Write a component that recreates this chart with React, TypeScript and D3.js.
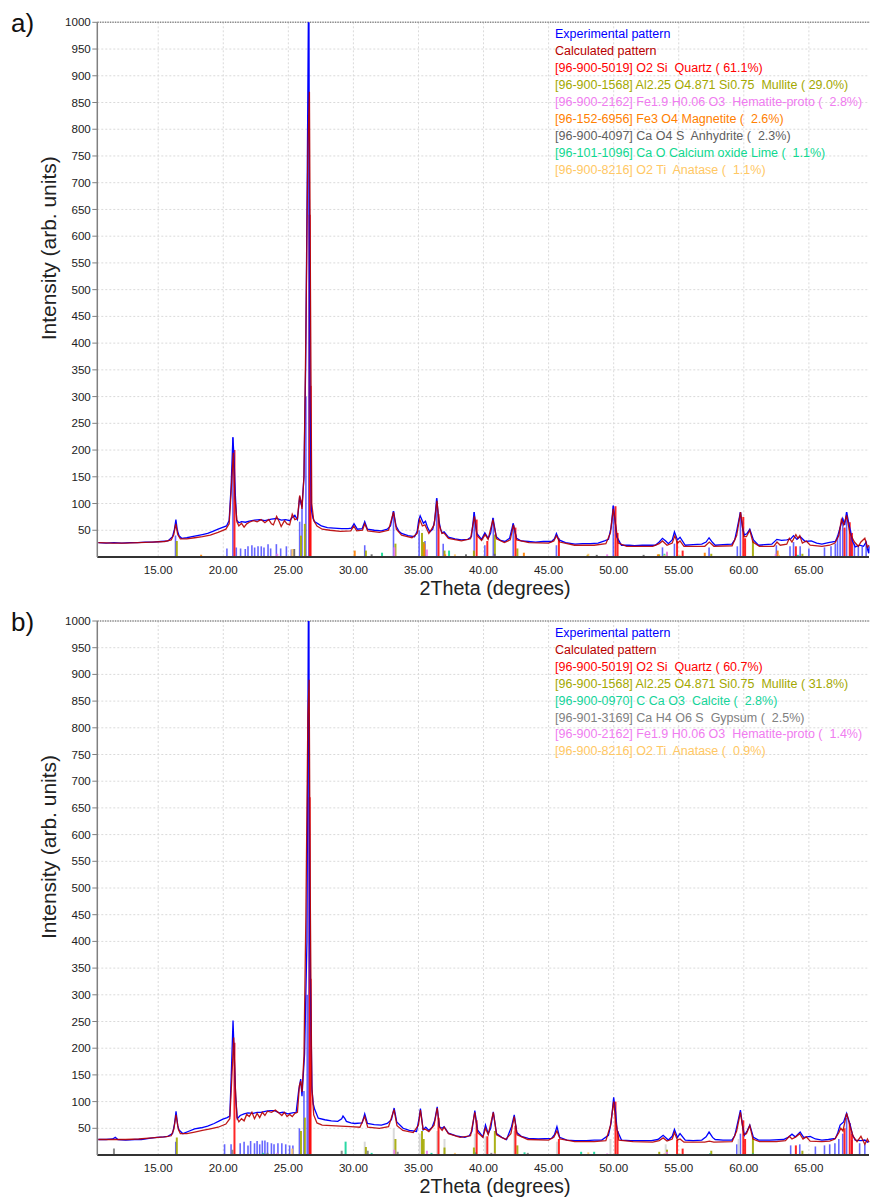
import React from 'react';
import * as d3 from 'd3';

type Pt = [number, number];

// 2theta range shown and tick values
const xDomain: Pt = [10.32, 69.62];
const xTicks = [15, 20, 25, 30, 35, 40, 45, 50, 55, 60, 65];
const yTicks = d3.range(50, 1001, 50);

// ---- panel a) ----
const expA: Pt[] = [
  [10.4, 27], [11.0, 26], [11.6, 27], [12.2, 26], [12.8, 27], [13.4, 27], [14.0, 28], [14.6, 28], [15.2, 29], [15.75, 30],
  [16.1, 38], [16.25, 52], [16.36, 70], [16.47, 50], [16.6, 40], [16.8, 35], [17.2, 36], [17.6, 38], [18.0, 40], [18.4, 42],
  [18.8, 44], [19.2, 48], [19.6, 52], [19.9, 55], [20.25, 58], [20.45, 68], [20.6, 131], [20.74, 224], [20.82, 190], [20.92, 120],
  [21.03, 69], [21.2, 64], [21.4, 66], [21.7, 65], [22.0, 67], [22.4, 69], [22.8, 70], [23.2, 68], [23.7, 71], [24.1, 72],
  [24.46, 69], [24.8, 70], [25.1, 68], [25.3, 74], [25.5, 78], [25.7, 70], [25.87, 113], [25.97, 100], [26.05, 94], [26.2, 150],
  [26.33, 355], [26.45, 700], [26.56, 1080], [26.67, 300], [26.77, 88], [26.9, 72], [27.03, 66], [27.3, 62], [27.54, 58], [28.0, 55],
  [28.5, 54], [29.08, 53], [29.6, 53], [29.85, 54], [30.05, 62], [30.3, 52], [30.67, 53], [30.87, 66], [31.08, 52], [31.6, 50],
  [32.15, 49], [32.6, 52], [32.85, 58], [33.08, 86], [33.28, 58], [33.5, 48], [33.7, 44], [34.2, 40], [34.7, 38], [34.9, 48],
  [35.02, 69], [35.13, 77], [35.38, 63], [35.54, 67], [35.7, 55], [35.87, 47], [36.1, 52], [36.25, 69], [36.4, 110], [36.56, 69],
  [36.7, 52], [36.82, 45], [36.97, 47], [37.3, 37], [37.8, 34], [38.3, 32], [38.8, 33], [39.07, 38], [39.28, 84], [39.48, 44],
  [39.85, 33], [40.1, 45], [40.36, 35], [40.55, 45], [40.72, 73], [40.98, 38], [41.3, 31], [41.64, 29], [42.0, 35], [42.28, 63],
  [42.54, 35], [42.9, 30], [43.44, 29], [44.0, 28], [44.6, 29], [45.23, 29], [45.45, 34], [45.6, 44], [45.8, 32], [46.3, 27],
  [47.03, 24], [47.6, 25], [48.2, 25], [48.8, 26], [49.3, 30], [49.6, 33], [49.8, 55], [49.97, 96], [50.1, 70], [50.23, 38],
  [50.6, 22], [51.2, 22], [51.6, 21], [52.2, 22], [52.8, 22], [53.2, 22], [53.5, 28], [53.75, 35], [54.0, 30], [54.2, 25],
  [54.5, 32], [54.67, 47], [54.9, 32], [55.1, 37], [55.5, 22], [56.1, 23], [56.77, 24], [57.1, 28], [57.33, 36], [57.6, 27],
  [57.8, 22], [58.4, 23], [59.08, 24], [59.3, 32], [59.46, 50], [59.74, 84], [59.9, 55], [60.05, 41], [60.25, 44], [60.46, 52],
  [60.74, 32], [61.13, 22], [61.6, 23], [62.15, 24], [62.54, 33], [62.9, 31], [63.3, 32], [63.6, 34], [63.82, 40], [64.08, 33],
  [64.33, 38], [64.72, 29], [65.18, 30], [65.6, 26], [66.0, 24], [66.5, 27], [67.03, 29], [67.2, 38], [67.4, 55], [67.6, 72],
  [67.75, 60], [67.9, 84], [68.05, 65], [68.18, 50], [68.35, 30], [68.56, 19], [68.9, 22], [69.2, 20], [69.4, 28], [69.5, 15],
  [69.6, 7], [69.62, 20],
];

const calcA: Pt[] = [
  [10.4, 27], [11.5, 26], [12.5, 26], [13.5, 27], [14.5, 28], [15.5, 29], [16.0, 32], [16.2, 42], [16.35, 62], [16.5, 42],
  [16.7, 34], [17.2, 34], [17.8, 36], [18.4, 38], [19.0, 41], [19.6, 46], [20.2, 52], [20.45, 62], [20.6, 120], [20.77, 195],
  [20.9, 110], [21.05, 66], [21.2, 58], [21.4, 63], [21.6, 56], [21.8, 62], [22.0, 65], [22.3, 68], [22.6, 66], [22.9, 70],
  [23.2, 64], [23.5, 70], [23.7, 62], [23.85, 60], [24.1, 76], [24.3, 66], [24.45, 57], [24.7, 68], [24.9, 62], [25.1, 60],
  [25.3, 80], [25.5, 70], [25.7, 72], [25.87, 115], [25.97, 105], [26.05, 90], [26.2, 150], [26.35, 420], [26.5, 760], [26.62, 870],
  [26.7, 500], [26.8, 100], [26.95, 68], [27.2, 58], [27.6, 52], [28.2, 50], [29.0, 48], [29.8, 49], [30.03, 58], [30.25, 49],
  [30.7, 50], [30.87, 62], [31.1, 49], [32.0, 46], [32.7, 50], [33.08, 84], [33.3, 52], [33.7, 41], [34.5, 36], [34.9, 44],
  [35.1, 70], [35.3, 58], [35.5, 60], [35.8, 44], [36.2, 60], [36.42, 105], [36.6, 60], [36.8, 44], [36.95, 45], [37.3, 35],
  [38.3, 30], [39.0, 34], [39.3, 76], [39.5, 40], [39.85, 31], [40.12, 42], [40.35, 33], [40.72, 70], [41.0, 34], [41.6, 27],
  [42.05, 32], [42.3, 60], [42.55, 32], [43.5, 27], [45.0, 26], [45.4, 30], [45.6, 40], [45.85, 28], [47.0, 22], [48.5, 22],
  [49.4, 25], [49.75, 45], [49.97, 90], [50.15, 60], [50.35, 26], [51.0, 20], [53.0, 20], [53.5, 25], [53.75, 30], [54.1, 22],
  [54.5, 26], [54.7, 40], [54.9, 26], [55.1, 30], [55.4, 20], [57.0, 20], [57.35, 28], [57.7, 20], [59.1, 21], [59.45, 40],
  [59.75, 84], [60.0, 38], [60.2, 38], [60.46, 50], [60.7, 28], [61.2, 20], [62.3, 20], [62.55, 28], [62.8, 22], [63.3, 24],
  [63.5, 35], [63.7, 28], [64.0, 42], [64.15, 35], [64.3, 40], [64.5, 26], [64.8, 30], [65.1, 22], [66.0, 20], [66.6, 22],
  [67.0, 26], [67.3, 40], [67.5, 70], [67.68, 60], [67.9, 78], [68.15, 45], [68.5, 28], [68.8, 20], [69.0, 28], [69.3, 35],
  [69.5, 18], [69.62, 22],
];

const peaksA: Pt[] = [
  [16.33, 40], [20.28, 16], [20.74, 224], [21.0, 18], [21.33, 16], [21.69, 15], [21.9, 20], [22.2, 22], [22.41, 18], [22.67, 20],
  [22.92, 20], [23.13, 18], [23.44, 24], [23.64, 16], [24.08, 24], [24.41, 16], [24.85, 20], [25.23, 14], [25.87, 66], [26.05, 106],
  [26.35, 300], [26.57, 1000], [30.87, 22], [33.08, 86], [35.05, 50], [35.5, 30], [36.4, 110], [36.9, 25], [39.28, 84], [40.1, 22],
  [40.75, 73], [42.28, 63], [45.6, 22], [49.97, 96], [53.75, 18], [54.67, 25], [57.33, 18], [59.5, 20], [59.74, 84], [62.5, 22],
  [63.55, 20], [63.82, 28], [64.33, 20], [65.0, 16], [66.2, 18], [66.7, 20], [67.03, 25], [67.2, 40], [67.4, 55], [67.6, 72],
  [67.9, 84], [68.2, 50], [68.5, 25], [68.8, 22], [69.1, 20], [69.4, 28],
];
const quartzA: Pt[] = [
  [20.86, 200], [26.64, 640], [26.71, 320], [36.54, 80], [39.47, 70], [40.29, 30], [42.45, 55], [45.79, 35], [50.14, 95], [50.3, 45],
  [54.87, 30], [55.3, 12], [59.96, 75], [60.1, 35], [64.0, 20], [67.74, 55], [68.14, 65], [68.31, 45],
];
const mulliteA: Pt[] = [
  [16.43, 30], [25.97, 40], [26.27, 62], [30.96, 12], [33.23, 25], [35.27, 45], [35.4, 28], [37.0, 12], [39.26, 12], [40.87, 42],
  [42.6, 16], [48.0, 4], [53.5, 5], [54.1, 8], [57.5, 6], [60.7, 30], [64.5, 6],
];
const hematiteA: Pt[] = [[24.15, 6], [33.15, 18], [35.65, 14], [40.85, 4], [49.5, 5], [54.1, 10], [62.45, 6], [64.0, 5]];
const magnetiteA: Pt[] = [[18.3, 4], [30.1, 12], [35.45, 25], [37.05, 5], [43.1, 8], [53.4, 5], [57.0, 8], [62.6, 12]];
const anhydriteA: Pt[] = [[25.45, 15], [31.4, 5], [38.65, 5], [40.85, 6], [48.7, 4], [52.3, 4]];
const limeA: Pt[] = [[32.2, 8], [37.35, 12], [53.9, 6], [64.15, 4]];
const anataseA: Pt[] = [[25.3, 15], [37.8, 5], [48.05, 6], [53.9, 4], [55.06, 4], [62.7, 4]];

const legendA = [
  ['Experimental pattern', '#0000ff'],
  ['Calculated pattern', '#b80000'],
  ['[96-900-5019] O2 Si  Quartz ( 61.1%)', '#ff0000'],
  ['[96-900-1568] Al2.25 O4.871 Si0.75  Mullite ( 29.0%)', '#a3a800'],
  ['[96-900-2162] Fe1.9 H0.06 O3  Hematite-proto (  2.8%)', '#f07cf0'],
  ['[96-152-6956] Fe3 O4 Magnetite (  2.6%)', '#ff8000'],
  ['[96-900-4097] Ca O4 S  Anhydrite (  2.3%)', '#606060'],
  ['[96-101-1096] Ca O Calcium oxide Lime (  1.1%)', '#10d890'],
  ['[96-900-8216] O2 Ti  Anatase (  1.1%)', '#ffc864'],
];

// ---- panel b) ----
const expB: Pt[] = [
  [10.4, 29], [11.0, 29], [11.5, 30], [11.7, 33], [11.9, 29], [12.5, 28], [13.2, 29], [13.7, 29], [14.3, 31], [14.9, 33],
  [15.4, 34], [15.75, 35], [16.1, 40], [16.25, 58], [16.37, 82], [16.5, 55], [16.6, 47], [16.9, 40], [17.3, 44], [17.8, 49],
  [18.3, 51], [18.8, 54], [19.3, 59], [19.7, 64], [19.97, 67], [20.3, 70], [20.5, 73], [20.62, 153], [20.75, 252], [20.85, 180],
  [20.95, 110], [21.08, 68], [21.3, 74], [21.6, 77], [21.9, 79], [22.3, 78], [22.6, 80], [22.9, 80], [23.3, 82], [23.6, 83],
  [23.95, 83], [24.3, 79], [24.6, 80], [24.97, 77], [25.3, 79], [25.6, 80], [25.8, 122], [25.95, 142], [26.05, 110], [26.15, 150],
  [26.25, 190], [26.43, 400], [26.55, 1080], [26.65, 400], [26.82, 122], [26.92, 95], [27.03, 85], [27.3, 69], [27.8, 66], [28.3, 64],
  [28.8, 63], [29.1, 68], [29.2, 73], [29.35, 68], [29.46, 63], [29.8, 60], [30.1, 59], [30.67, 60], [30.87, 77], [31.08, 59],
  [31.6, 57], [32.15, 56], [32.6, 59], [32.92, 66], [33.13, 88], [33.33, 62], [33.82, 50], [34.3, 46], [34.85, 44], [35.05, 69],
  [35.15, 87], [35.36, 47], [35.56, 52], [35.8, 46], [36.05, 52], [36.25, 65], [36.44, 90], [36.6, 53], [36.82, 50], [36.97, 53],
  [37.3, 41], [37.9, 36], [38.56, 33], [38.9, 36], [39.1, 44], [39.33, 83], [39.54, 47], [39.95, 34], [40.15, 56], [40.36, 40],
  [40.55, 50], [40.75, 81], [41.0, 40], [41.4, 33], [41.77, 29], [42.15, 53], [42.36, 75], [42.56, 42], [42.9, 35], [43.44, 31],
  [44.2, 30], [45.23, 31], [45.45, 38], [45.64, 53], [45.85, 33], [46.4, 28], [47.03, 27], [47.9, 27], [48.5, 28], [49.08, 28],
  [49.6, 37], [49.8, 60], [50.0, 108], [50.15, 80], [50.26, 47], [50.6, 28], [51.3, 27], [52.15, 27], [52.9, 27], [53.4, 29],
  [53.8, 37], [54.2, 28], [54.5, 35], [54.67, 48], [54.9, 33], [55.1, 40], [55.5, 28], [56.1, 27], [56.77, 28], [57.1, 34],
  [57.33, 43], [57.6, 33], [57.8, 29], [58.4, 28], [59.08, 28], [59.3, 36], [59.46, 53], [59.74, 84], [59.9, 55], [60.05, 37],
  [60.25, 45], [60.46, 56], [60.74, 33], [61.13, 28], [62.0, 28], [63.05, 29], [63.4, 33], [63.7, 39], [63.95, 34], [64.33, 43],
  [64.6, 33], [65.1, 35], [65.5, 30], [66.0, 28], [66.5, 29], [67.03, 31], [67.2, 40], [67.4, 56], [67.67, 62], [67.9, 78],
  [68.18, 56], [68.35, 38], [68.56, 28], [69.0, 27], [69.3, 28], [69.5, 24], [69.62, 26],
];

const calcB: Pt[] = [
  [10.4, 29], [11.5, 29], [12.5, 29], [13.5, 30], [14.5, 32], [15.5, 34], [16.0, 36], [16.2, 48], [16.37, 75], [16.55, 48],
  [16.7, 40], [17.2, 40], [17.8, 43], [18.4, 46], [19.0, 49], [19.6, 52], [20.2, 58], [20.5, 68], [20.65, 140], [20.8, 220],
  [20.92, 130], [21.05, 70], [21.2, 62], [21.4, 68], [21.6, 64], [21.8, 76], [22.0, 72], [22.2, 80], [22.4, 68], [22.6, 78],
  [22.8, 70], [23.0, 80], [23.2, 74], [23.4, 82], [23.7, 80], [24.0, 84], [24.3, 78], [24.5, 74], [24.7, 80], [24.9, 72],
  [25.1, 76], [25.3, 72], [25.5, 78], [25.7, 80], [25.85, 130], [25.95, 138], [26.05, 118], [26.2, 185], [26.35, 450], [26.5, 820],
  [26.6, 890], [26.68, 500], [26.8, 130], [26.95, 75], [27.2, 60], [27.6, 56], [28.3, 55], [29.0, 54], [29.8, 53], [30.5, 52],
  [30.87, 72], [31.1, 52], [32.0, 50], [32.7, 53], [33.12, 85], [33.35, 55], [33.8, 46], [34.6, 42], [35.0, 56], [35.15, 84],
  [35.35, 48], [35.56, 48], [35.8, 44], [36.2, 56], [36.44, 88], [36.62, 52], [36.82, 46], [36.97, 52], [37.3, 40], [38.2, 33],
  [39.0, 36], [39.33, 80], [39.55, 42], [39.95, 33], [40.15, 50], [40.36, 38], [40.75, 80], [41.0, 38], [41.7, 29], [42.1, 40],
  [42.36, 72], [42.58, 38], [43.4, 29], [45.0, 28], [45.4, 33], [45.64, 45], [45.88, 30], [47.0, 25], [48.5, 25], [49.4, 27],
  [49.75, 55], [50.0, 100], [50.18, 60], [50.4, 28], [51.5, 25], [53.0, 24], [53.5, 27], [53.8, 32], [54.1, 26], [54.5, 30],
  [54.67, 42], [54.9, 28], [55.1, 30], [55.4, 24], [57.0, 24], [57.35, 26], [57.7, 24], [59.1, 25], [59.45, 45], [59.74, 80],
  [60.0, 38], [60.2, 40], [60.46, 55], [60.7, 30], [61.2, 25], [62.5, 25], [63.2, 27], [63.5, 35], [63.7, 30], [64.0, 34],
  [64.3, 40], [64.55, 30], [64.8, 34], [65.1, 26], [66.0, 25], [66.6, 26], [67.0, 30], [67.3, 42], [67.45, 50], [67.62, 45],
  [67.9, 78], [68.15, 55], [68.4, 35], [68.7, 25], [69.0, 35], [69.3, 20], [69.5, 30], [69.62, 24],
];

const peaksB: Pt[] = [
  [16.35, 25], [20.1, 20], [20.6, 20], [21.3, 22], [21.6, 25], [21.9, 18], [22.1, 26], [22.4, 22], [22.6, 26], [22.8, 20],
  [23.0, 27], [23.2, 27], [23.4, 24], [23.7, 22], [23.9, 20], [24.2, 22], [24.5, 22], [24.8, 20], [25.1, 18], [25.35, 18],
  [25.85, 50], [26.2, 120], [26.45, 300], [26.58, 1000], [59.46, 20], [59.74, 40], [63.6, 18], [64.3, 20], [65.5, 16], [66.2, 18],
  [66.6, 20], [67.0, 22], [67.3, 30], [67.6, 40], [67.9, 70], [68.3, 28], [68.9, 22], [69.3, 20],
];
const paleB: Pt[] = [
  [30.87, 25], [33.1, 50], [35.1, 40], [36.44, 45], [37.0, 30], [39.33, 40], [40.15, 35], [42.36, 45], [45.64, 25], [49.75, 30],
  [54.0, 20], [59.6, 30],
];
const quartzB: Pt[] = [
  [20.86, 210], [26.64, 670], [26.71, 330], [36.54, 70], [39.47, 65], [40.29, 35], [42.45, 55], [45.79, 30], [50.14, 100], [50.3, 45],
  [54.87, 28], [55.3, 12], [59.96, 65], [60.1, 30], [64.0, 18], [67.74, 50], [68.14, 60], [68.31, 40],
];
const mulliteB: Pt[] = [
  [16.43, 33], [25.97, 45], [26.27, 70], [30.96, 15], [33.23, 30], [35.27, 45], [35.4, 30], [37.0, 14], [39.26, 14], [40.87, 45],
  [42.6, 18], [53.5, 6], [54.1, 10], [57.5, 8], [60.7, 32], [64.5, 8],
];
const calciteB: Pt[] = [[23.05, 4], [29.4, 25], [31.4, 4], [36.0, 4], [39.4, 5], [43.15, 5], [47.5, 6], [48.5, 6], [57.4, 3], [60.7, 3]];
const gypsumB: Pt[] = [[11.6, 12], [20.7, 10], [23.4, 4], [29.1, 8], [31.1, 8], [33.4, 6], [40.6, 4], [43.4, 4]];
const hematiteB: Pt[] = [[24.15, 4], [33.15, 10], [35.65, 8], [40.85, 3], [49.5, 3], [54.1, 6]];
const anataseB: Pt[] = [[25.3, 12], [37.8, 4], [48.05, 5], [53.9, 3], [55.06, 3]];

const legendB = [
  ['Experimental pattern', '#0000ff'],
  ['Calculated pattern', '#b80000'],
  ['[96-900-5019] O2 Si  Quartz ( 60.7%)', '#ff0000'],
  ['[96-900-1568] Al2.25 O4.871 Si0.75  Mullite ( 31.8%)', '#a3a800'],
  ['[96-900-0970] C Ca O3  Calcite (  2.8%)', '#14d49a'],
  ['[96-901-3169] Ca H4 O6 S  Gypsum (  2.5%)', '#808080'],
  ['[96-900-2162] Fe1.9 H0.06 O3  Hematite-proto (  1.4%)', '#f07cf0'],
  ['[96-900-8216] O2 Ti  Anatase (  0.9%)', '#ffc864'],
];

const FONT = '"Liberation Sans", Arial, sans-serif';

const Panel = ({ id, top, bottom, label, exp, calc, sticks, legend }) => {
  const left = 97.3;
  const right = 869;
  const x = d3.scaleLinear().domain(xDomain).range([left, right]);
  const y = d3.scaleLinear().domain([0, 1000]).range([bottom, top]);
  const line = d3.line<Pt>().x(d => x(d[0])).y(d => y(d[1]));

  return (
    <g>
      <defs>
        <clipPath id={id}>
          <rect x={left} y={top} width={right - left + 1} height={bottom - top} />
        </clipPath>
      </defs>
      <text x={11} y={top + 9.5} fontSize={26} fill="#111">{label}</text>

      {/* grid */}
      {xTicks.map(t => (
        <line key={'gx' + t} x1={x(t)} x2={x(t)} y1={top} y2={bottom} stroke="#dadada" strokeDasharray="2,2" />
      ))}
      {yTicks.filter(t => t < 1000).map(t => (
        <line key={'gy' + t} x1={left} x2={right} y1={y(t)} y2={y(t)} stroke="#dadada" strokeDasharray="2,2" />
      ))}
      <line x1={left} x2={870} y1={y(1000)} y2={y(1000)} stroke="#8a8a8a" strokeWidth={1.5} strokeDasharray="1.5,1" />

      {/* legend */}
      {legend.map(([txt, col], i) => (
        <text key={txt} x={555} y={top + 16 + i * 16.9} fontSize={12.5} fill={col} style={{ whiteSpace: 'pre' }}>{txt}</text>
      ))}

      <g clipPath={`url(#${id})`}>
        {sticks.map((s, si) => s.data.map((d, i) => (
          <line key={si + '-' + i} x1={x(d[0])} x2={x(d[0])} y1={y(0)} y2={y(d[1])}
            stroke={s.color} strokeWidth={s.width} strokeOpacity={s.opacity} />
        )))}
        <path d={line(exp)} fill="none" stroke="#0000ff" strokeWidth={1.3} />
        <path d={line(calc)} fill="none" stroke="#b80000" strokeWidth={1.3} strokeOpacity={0.9} />
      </g>

      {/* axes */}
      <line x1={left} x2={869} y1={bottom} y2={bottom} stroke="#333" strokeWidth={2} />
      <line x1={left} x2={left} y1={top} y2={bottom} stroke="#808080" strokeWidth={1.5} />
      {yTicks.map(t => (
        <g key={'yt' + t}>
          <line x1={left - 5} x2={left} y1={y(t)} y2={y(t)} stroke="#808080" />
          <text x={left - 6.5} y={y(t)} dy="0.35em" textAnchor="end" fontSize={11.6} fill="#222">{t}</text>
        </g>
      ))}
      {xTicks.map(t => (
        <text key={'xt' + t} x={x(t)} y={bottom + 17} textAnchor="middle" fontSize={11.6} fill="#222">{d3.format('.2f')(t)}</text>
      ))}
      <text x={495} y={bottom + 38} textAnchor="middle" fontSize={20} textLength={151} lengthAdjust="spacingAndGlyphs" fill="#222">2Theta (degrees)</text>
      <text transform={`translate(56,${top + 226}) rotate(-90)`} textAnchor="middle" fontSize={20.5} textLength={184} lengthAdjust="spacingAndGlyphs" fill="#222">Intensity (arb. units)</text>
    </g>
  );
};

const stickSet = (peaks, quartz, extra) => [
  { data: peaks, color: '#0000ff', width: 1.6, opacity: 0.6 },
  ...extra,
  { data: quartz, color: '#ff0000', width: 2, opacity: 0.85 },
];

export default function App() {
  const sticksA = stickSet(peaksA, quartzA, [
    { data: mulliteA, color: '#a3a800', width: 2, opacity: 0.9 },
    { data: hematiteA, color: '#f07cf0', width: 2, opacity: 0.9 },
    { data: magnetiteA, color: '#ff8000', width: 2, opacity: 0.9 },
    { data: anhydriteA, color: '#606060', width: 2, opacity: 0.9 },
    { data: limeA, color: '#10d890', width: 2, opacity: 0.9 },
    { data: anataseA, color: '#ffc864', width: 2, opacity: 0.9 },
  ]);
  const sticksB = stickSet(peaksB, quartzB, [
    { data: paleB, color: '#d0d0d0', width: 2, opacity: 0.8 },
    { data: mulliteB, color: '#a3a800', width: 2, opacity: 0.9 },
    { data: calciteB, color: '#14d49a', width: 2, opacity: 0.9 },
    { data: gypsumB, color: '#808080', width: 2, opacity: 0.9 },
    { data: hematiteB, color: '#f07cf0', width: 2, opacity: 0.9 },
    { data: anataseB, color: '#ffc864', width: 2, opacity: 0.9 },
  ]);
  return (
    <svg width={870} height={1199} style={{ position: 'absolute', left: 0, top: 0, background: '#fff' }}
      fontFamily={FONT}>
      <Panel id="clipA" top={22.3} bottom={557} label="a)" exp={expA} calc={calcA} sticks={sticksA} legend={legendA} />
      <Panel id="clipB" top={621} bottom={1155} label="b)" exp={expB} calc={calcB} sticks={sticksB} legend={legendB} />
    </svg>
  );
}
